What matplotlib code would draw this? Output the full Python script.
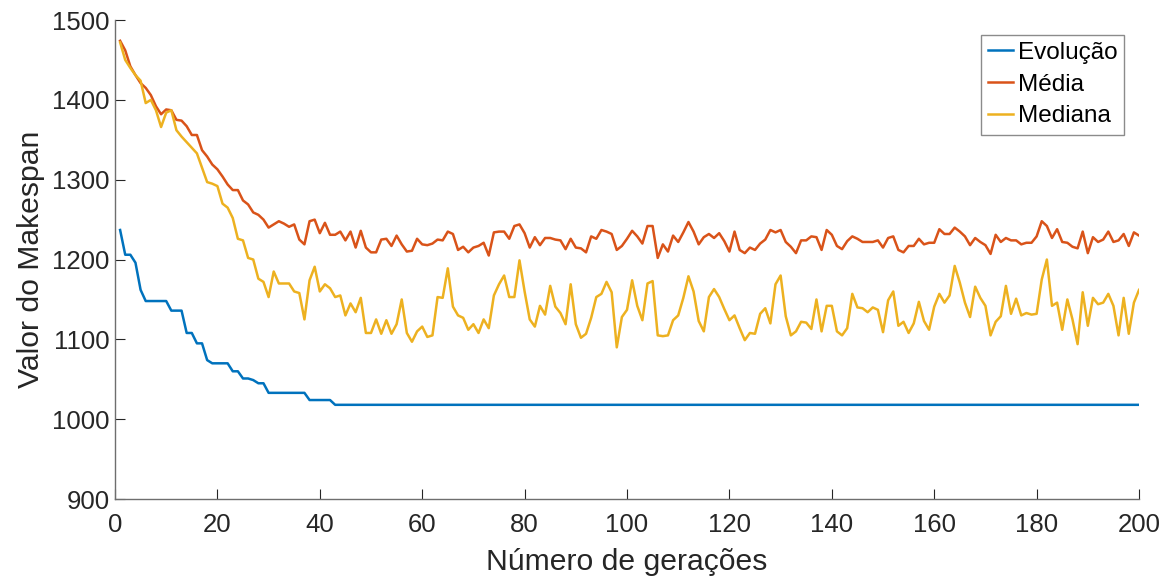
import numpy as np
import matplotlib
matplotlib.use('Agg')
import matplotlib.pyplot as plt

plt.rcParams['font.family'] = ['Liberation Sans', 'DejaVu Sans']

# Melhor makespan ao longo das gerações
evolucao = ([1237, 1206, 1206, 1196, 1162] + [1148] * 5 + [1136] * 3 + [1108] * 2
            + [1095] * 2 + [1074] + [1070] * 4 + [1060] * 2 + [1051] * 2 + [1049]
            + [1045] * 2 + [1033] * 8 + [1024] * 5 + [1018] * 158)

media = [1474, 1462, 1442, 1431, 1421, 1415, 1406, 1392, 1382, 1388, 1387, 1375, 1374, 1367, 1356, 1356,
         1337, 1329, 1319, 1313, 1304, 1294, 1287, 1287, 1274, 1269, 1259, 1256, 1250, 1240, 1244, 1248,
         1245, 1241, 1244, 1225, 1219, 1248, 1250, 1233, 1246, 1231, 1231, 1235, 1224, 1235, 1215, 1236,
         1215, 1209, 1209, 1225, 1226, 1217, 1230, 1219, 1210, 1211, 1226, 1219, 1218, 1220, 1225, 1224,
         1235, 1232, 1212,
         1216, 1209, 1215, 1217, 1221, 1205, 1234, 1235, 1235, 1226, 1242, 1244, 1233, 1215, 1228, 1218,
         1227, 1227, 1225, 1224, 1213, 1226, 1215, 1214, 1209, 1229, 1226, 1237, 1235, 1232, 1212, 1217,
         1226,
         1236, 1229, 1220, 1242, 1242, 1202, 1219, 1210, 1230, 1222, 1234, 1247, 1235, 1219, 1228, 1232,
         1227, 1233, 1223, 1210, 1235, 1212, 1208, 1215, 1212, 1220, 1225, 1237, 1234, 1237, 1222, 1216,
         1208,
         1224, 1224, 1229, 1228, 1212, 1237, 1231, 1217, 1213, 1223, 1229, 1226, 1222, 1222, 1222, 1224,
         1215, 1227, 1229, 1212, 1209, 1217, 1217, 1226, 1219, 1221, 1221, 1238, 1232, 1232, 1240, 1235,
         1229,
         1218, 1227, 1222, 1218, 1207, 1231, 1222, 1227, 1224, 1224, 1219, 1221, 1221, 1229, 1248, 1242,
         1227, 1238, 1222, 1221, 1216, 1214, 1235, 1208, 1228, 1222, 1225, 1235, 1222, 1224, 1232, 1217,
         1234, 1230]

mediana = [1472, 1450, 1440, 1431, 1424, 1396, 1400, 1387, 1366, 1384, 1387, 1362, 1354, 1347, 1340, 1333,
           1315, 1297, 1295, 1292, 1270, 1265, 1252, 1226, 1224, 1202, 1200, 1176, 1172, 1153, 1185, 1170,
           1170,
           1170, 1160, 1158, 1125, 1174, 1191, 1160, 1169, 1164, 1153, 1155, 1130, 1145, 1134, 1152, 1108,
           1108, 1125, 1107, 1124, 1107, 1119, 1150, 1108, 1097, 1110, 1116, 1103, 1105, 1153, 1152, 1189,
           1141, 1130,
           1127, 1112, 1119, 1108, 1125, 1114, 1155, 1169, 1180, 1153, 1153, 1199, 1160, 1125, 1116, 1142,
           1131, 1167, 1141, 1133, 1119, 1169, 1119, 1102, 1107, 1127, 1153, 1157, 1172, 1159, 1090, 1128,
           1137,
           1174, 1142, 1124, 1170, 1173, 1105, 1104, 1105, 1124, 1130, 1152, 1179, 1160, 1123, 1110, 1153,
           1163, 1153, 1138, 1124, 1130, 1114, 1099, 1108, 1107, 1132, 1139, 1120, 1169, 1180, 1129, 1105,
           1110,
           1122, 1121, 1113, 1150, 1110, 1142, 1142, 1110, 1105, 1114, 1157, 1140, 1139, 1134, 1140, 1137,
           1109, 1149, 1160, 1117, 1122, 1108, 1120, 1147, 1123, 1112, 1141, 1157, 1146, 1155, 1192, 1171,
           1146,
           1128, 1166, 1152, 1142, 1105, 1122, 1129, 1167, 1132, 1151, 1130, 1133, 1131, 1132, 1175, 1200,
           1142, 1146, 1112, 1150, 1125, 1094, 1159, 1117, 1152, 1144, 1146, 1157, 1142, 1105, 1152, 1107,
           1146, 1162]

geracoes = np.arange(1, len(media) + 1)

fig = plt.figure(figsize=(11.71, 5.81), dpi=100)
ax = fig.add_axes([0.0982, 0.1411, 0.8745, 0.8244])

ax.plot(geracoes, evolucao, color='#0072BD', lw=1.8, label='Evolução')
ax.plot(geracoes, media, color='#D95319', lw=1.8, label='Média')
ax.plot(geracoes, mediana, color='#EDB120', lw=1.8, label='Mediana')

ax.set_xlim(0, 200)
ax.set_ylim(900, 1500)
ax.set_xticks(np.arange(0, 201, 20))
ax.set_yticks(np.arange(900, 1501, 100))

for s in ['top', 'right']:
    ax.spines[s].set_visible(False)
for s in ['left', 'bottom']:
    ax.spines[s].set_color('#6e6e6e')
    ax.spines[s].set_linewidth(1.0)
ax.tick_params(direction='in', length=7, width=0.8, color='#262626',
               labelsize=18.5, labelcolor='#262626')
ax.tick_params(axis='x', pad=10)
ax.tick_params(axis='y', pad=4)

ax.set_xlabel('Número de gerações', fontsize=21.7, color='#262626', labelpad=8)
ax.set_ylabel('Valor do Makespan', fontsize=21.7, color='#262626', labelpad=5)

leg = ax.legend(loc='upper right', fontsize=17.5, frameon=True, fancybox=False,
                handlelength=1.0, handletextpad=0.2, borderpad=0.3, labelspacing=0.4,
                borderaxespad=0.6)
leg.get_frame().set_edgecolor('#6e6e6e')
leg.get_frame().set_linewidth(1.0)

fig.savefig('out.png', dpi=100)
